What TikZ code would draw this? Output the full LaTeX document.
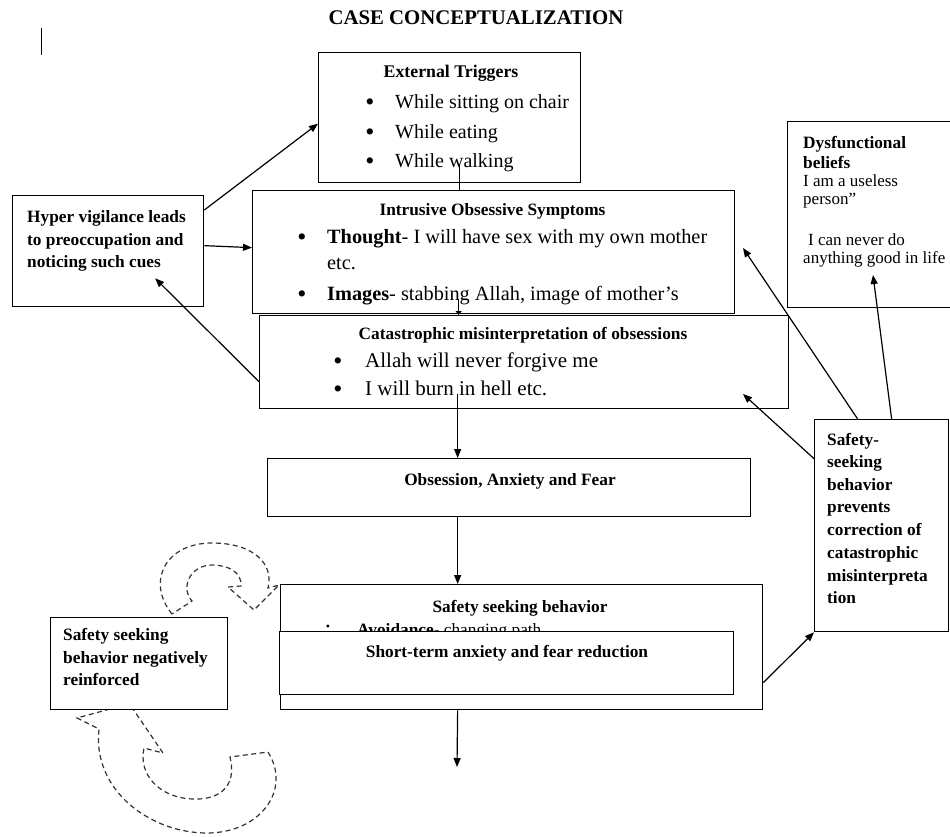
\documentclass[tikz,border=0pt]{standalone}
\usepackage{fontspec}
\setmainfont{Liberation Serif}
\usetikzlibrary{arrows.meta}
\begin{document}
\begin{tikzpicture}[x=1pt,y=-1pt,
  box/.style={draw, line width=1.3pt, fill=white, inner sep=0pt, anchor=north west},
  hd/.style={font=\fontsize{17.3pt}{20pt}\selectfont\bfseries, inner sep=0pt, anchor=base},
  bl/.style={font=\fontsize{17.3pt}{20pt}\selectfont\bfseries, inner sep=0pt, anchor=base west},
  rg/.style={font=\fontsize{17pt}{20pt}\selectfont, inner sep=0pt, anchor=base west},
  tx/.style={font=\fontsize{#1pt}{20pt}\selectfont, inner sep=0pt, anchor=base west},
  bul/.style={font=\fontsize{#1pt}{20pt}\selectfont, inner sep=0pt, anchor=base},
  conn/.style={line width=1.2pt, -{Triangle[length=9pt,width=7pt]}},
  plain/.style={line width=1.2pt},
  dsh/.style={line width=1.2pt, black!80, dash pattern=on 5pt off 3.5pt}
]
\useasboundingbox (0,0) rectangle (950,836);

% title and cursor mark
\node[font=\fontsize{20.8pt}{24pt}\selectfont\bfseries, inner sep=0pt, anchor=base] (title) at (476,24) {CASE CONCEPTUALIZATION};
\draw[line width=1pt] (41,28) -- (41,55);

% dashed curved arrows
\draw[dsh] (172,614) .. controls (146,582) and (165,543) .. (212,543) .. controls (255,543) and (274,565) .. (268,588)
  -- (279,585) -- (254,610) -- (228,587) -- (241,586) .. controls (242,572) and (228,565) .. (212,565)
  .. controls (190,565) and (180,588) .. (192,601) -- cycle;
\draw[dsh] (110,709) -- (77,718) -- (99,729) .. controls (92,790) and (150,833) .. (207,833)
  .. controls (260,833) and (292,790) .. (268,752) -- (230,757) .. controls (238,790) and (215,800) .. (193,799)
  .. controls (160,798) and (138,775) .. (144,748) -- (163,753) -- (133,709);

% boxes
\node[box, minimum width=262pt, minimum height=130pt] (ext) at (318,52) {};
\node[box, minimum width=482pt, minimum height=123pt] (intr) at (252,190) {};
\node[box, minimum width=529pt, minimum height=93pt] (cat) at (259,315) {};
\node[box, minimum width=191pt, minimum height=111pt] (hyper) at (12,195) {};
\node[box, minimum width=163pt, minimum height=186pt] (dys) at (787,121) {};
\node[box, minimum width=134pt, minimum height=212pt] (prev) at (814,419) {};
\node[box, minimum width=483pt, minimum height=58pt] (obs) at (267,458) {};
\node[box, minimum width=482pt, minimum height=125pt] (ssb) at (280,584) {};
\node[box, minimum width=177pt, minimum height=92pt] (neg) at (50,617) {};

% External triggers
\node[hd, font=\fontsize{17.8pt}{20pt}\selectfont\bfseries] (extH) at (451,77) {External Triggers};
\node[bul=26] (eb1) at (370,110) {•};
\node[bul=26] (eb2) at (370,140) {•};
\node[bul=26] (eb3) at (370,169) {•};
\node[tx=20] (e1) at (395,108) {While sitting on chair};
\node[tx=20] (e2) at (395,138) {While eating};
\node[tx=20] (e3) at (395,167) {While walking};

% Intrusive
\node[hd] (intrH) at (492.5,215) {Intrusive Obsessive Symptoms};
\node[bul=26] (ib1) at (302,245) {•};
\node[bul=26] (ib2) at (302,302) {•};
\node[tx=20.3] (i1) at (327,243) {\textbf{Thought}- I will have sex with my own mother};
\node[tx=20.3] (i1b) at (327,269) {etc.};
\node[tx=20.3] (i2) at (327,300) {\textbf{Images}- stabbing Allah, image of mother’s};

% Catastrophic
\node[hd] (catH) at (523,339) {Catastrophic misinterpretation of obsessions};
\node[bul=26] (cb1) at (338,369) {•};
\node[bul=26] (cb2) at (338,397) {•};
\node[tx=21] (c1) at (365,367) {Allah will never forgive me};
\node[tx=21] (c2) at (365,395) {I will burn in hell etc.};

% Hyper vigilance
\node[bl] (h1) at (27,222) {Hyper vigilance leads};
\node[bl] (h2) at (27,245) {to preoccupation and};
\node[bl] (h3) at (27,267) {noticing such cues};

% Dysfunctional beliefs
\node[bl] (d1) at (803,148) {Dysfunctional};
\node[bl] (d2) at (803,168) {beliefs};
\node[rg] (d3) at (803,186) {I am a useless};
\node[rg] (d4) at (803,204) {person”};
\node[rg] (d5) at (808,245) {I can never do};
\node[rg] (d6) at (803,263) {anything good in life};

% Safety-seeking prevents correction
\node[bl] (p1) at (827,445) {Safety-};
\node[bl] (p2) at (827,467) {seeking};
\node[bl] (p3) at (827,490) {behavior};
\node[bl] (p4) at (827,512) {prevents};
\node[bl] (p5) at (827,535) {correction of};
\node[bl] (p6) at (827,558) {catastrophic};
\node[bl] (p7) at (827,581) {misinterpreta};
\node[bl] (p8) at (827,603) {tion};

% Obsession
\node[hd] (obsH) at (510,485) {Obsession, Anxiety and Fear};

% Safety seeking behavior
\node[hd] (ssbH) at (520,612) {Safety seeking behavior};
\node[bul=12] (sb1) at (328,630) {•};
\node[tx=17.3] (s1) at (357,635) {\textbf{Avoidance}- changing path};
\node[box, minimum width=454pt, minimum height=63pt] (st) at (279,631) {};
\node[hd] (stH) at (507,657) {Short-term anxiety and fear reduction};

% Negatively reinforced
\node[bl] (n1) at (63,640) {Safety seeking};
\node[bl] (n2) at (63,663) {behavior negatively};
\node[bl] (n3) at (63,685) {reinforced};

% free ends
\coordinate (outEnd) at (457,767);
\coordinate (toIntr) at (743,248);
\coordinate (toDys) at (873,275);
\coordinate (toCat) at (743,394);

% connectors
\draw[conn] ([yshift=-15pt]hyper.north east) -- ([yshift=-6pt]ext.west);
\draw[conn] ([yshift=5.5pt]hyper.east) -- ([yshift=4.5pt]intr.west);
\draw[conn] ([yshift=-19.5pt]cat.west) -- ([xshift=47pt,yshift=29pt]hyper.south);
\draw[plain] ([xshift=10pt,yshift=19pt]ext.south) -- ([xshift=-34pt]intr.north);
\draw[plain, -{Triangle[length=4pt,width=6pt]}] ([xshift=-35pt,yshift=15pt]intr.south) -- ([xshift=-65.5pt]cat.north);
\draw[conn] ([xshift=-66.5pt,yshift=15pt]cat.south) -- ([xshift=-51.5pt]obs.north);
\draw[conn] ([xshift=-51.5pt]obs.south) -- ([xshift=-64pt]ssb.north);
\draw[conn] ([xshift=-64pt]ssb.south) -- (outEnd);
\draw[conn] ([yshift=-35.5pt]ssb.east) -- (prev.south west);
\draw[conn] ([xshift=-24pt]prev.north) -- (toIntr);
\draw[conn] ([xshift=10pt]prev.north) -- (toDys);
\draw[conn] ([yshift=67pt]prev.west) -- (toCat);
\end{tikzpicture}
\end{document}
